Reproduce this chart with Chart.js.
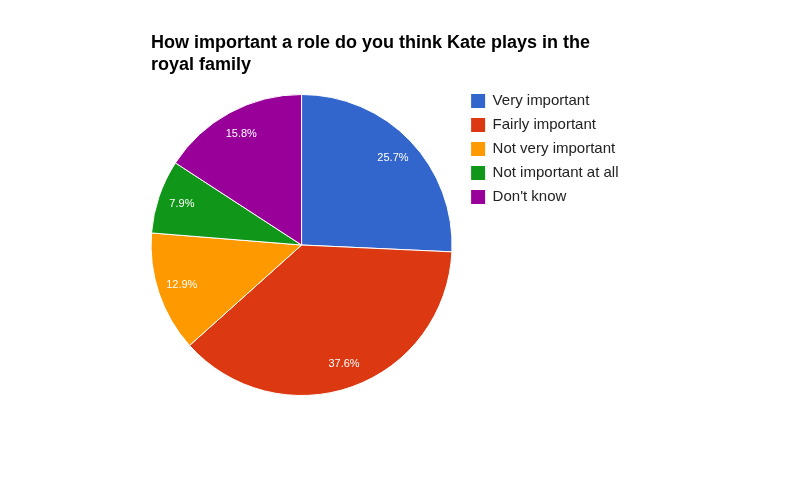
<!DOCTYPE html>
<html>
<head>
<meta charset="utf-8">
<script src="https://cdn.jsdelivr.net/npm/chart.js@4/dist/chart.umd.min.js"></script>
<style>
  body { margin: 0; background: #fff; }
  #wrap { width: 790px; height: 489px; }
</style>
</head>
<body>
<div id="wrap"><canvas id="myChart" width="790" height="489"></canvas></div>
<script>
const titleLines = ['How important a role do you think Kate plays in the', 'royal family'];
const categories = ['Very important', 'Fairly important', 'Not very important', 'Not important at all', "Don't know"];
const shares = [25.7, 37.6, 12.9, 7.9, 15.8];
const sliceColors = ['#3366cc', '#dc3912', '#ff9900', '#109618', '#990099'];

const FONT = "'Liberation Sans', Arial, sans-serif";

// percentage text inside each slice
const sliceLabels = {
  id: 'sliceLabels',
  afterDatasetsDraw(chart) {
    const ctx = chart.ctx;
    const meta = chart.getDatasetMeta(0);
    ctx.save();
    ctx.font = '11px ' + FONT;
    ctx.fillStyle = '#ffffff';
    ctx.textAlign = 'center';
    ctx.textBaseline = 'middle';
    meta.data.forEach((arc, i) => {
      const p = arc.getProps(['x', 'y', 'startAngle', 'endAngle', 'outerRadius'], true);
      const mid = (p.startAngle + p.endAngle) / 2;
      const r = p.outerRadius * 0.84;
      ctx.fillText(shares[i].toFixed(1) + '%', p.x + Math.cos(mid) * r, p.y + Math.sin(mid) * r);
    });
    ctx.restore();
  }
};

// shift legend a bit right of the chart area
const legendShift = {
  id: 'legendShift',
  afterLayout(chart) {
    chart.legend.left += 10;
    chart.legend.right += 10;
  }
};

const config = {
  type: 'pie',
  data: {
    labels: categories,
    datasets: [{
      data: shares,
      backgroundColor: sliceColors,
      borderColor: '#ffffff',
      borderWidth: 1,
      hoverOffset: 0,
      radius: 150.5
    }]
  },
  options: {
    responsive: false,
    animation: false,
    events: [],
    layout: {
      padding: { left: 151, right: 171.5, top: 0, bottom: 83.5 }
    },
    plugins: {
      title: {
        display: true,
        text: titleLines,
        align: 'start',
        color: '#000000',
        font: { family: FONT, size: 18, weight: 'bold', lineHeight: 1.25 },
        padding: { top: 31.5, bottom: 8 }
      },
      legend: {
        position: 'right',
        align: 'start',
        fullSize: false,
        labels: {
          boxWidth: 14,
          boxHeight: 14,
          padding: 9,
          color: '#222222',
          font: { family: FONT, size: 15 },
          generateLabels: (chart) =>
            Chart.overrides.pie.plugins.legend.labels.generateLabels(chart)
              .map(l => ({ ...l, lineWidth: 0 }))
        }
      },
      tooltip: { enabled: false }
    }
  },
  plugins: [sliceLabels, legendShift]
};

new Chart(document.getElementById('myChart'), config);
</script>
</body>
</html>
